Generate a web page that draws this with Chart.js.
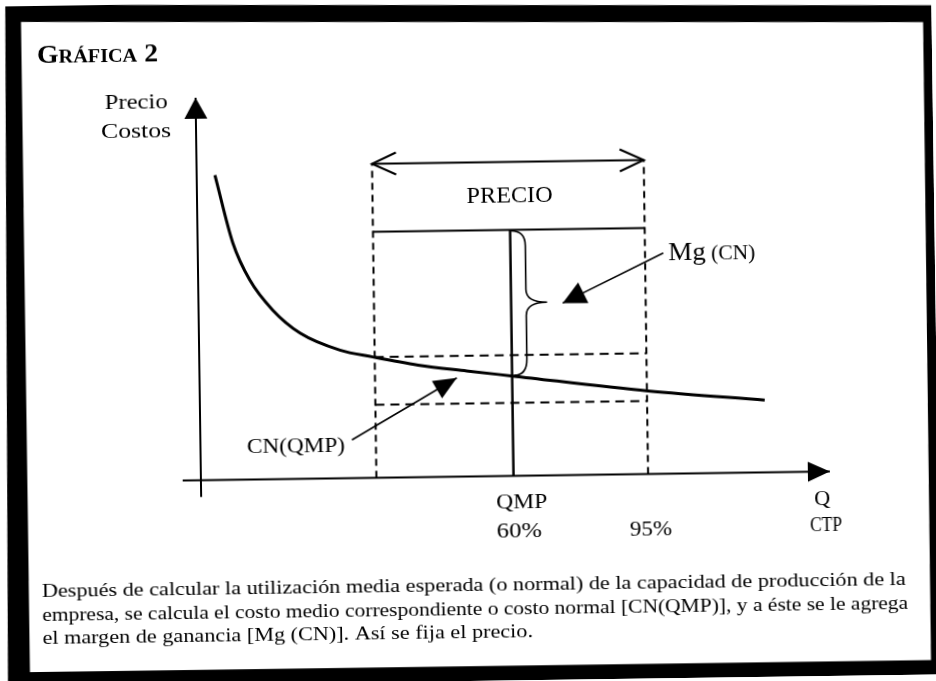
<!DOCTYPE html>
<html>
<head>
<meta charset="utf-8">
<script src="https://cdn.jsdelivr.net/npm/chart.js@4.4.1/dist/chart.umd.min.js"></script>
<style>
  html, body { margin: 0; padding: 0; background: #fff; overflow: hidden; }
  #wrap { width: 936px; height: 681px; transform: rotate(-0.8deg); }
</style>
</head>
<body>
<div id="wrap"><canvas id="grafica" width="936" height="681"></canvas></div>
<script>
// curva de costo normal CN(Q) (Q y costo en unidades relativas 0-100)
var q_values  = [2.9, 5.6, 8.2, 11.8, 16.1, 22.4, 27.6, 34.8, 42.5, 49.8, 71.3, 89.8];
var cn_values = [79.7, 61.9, 52.2, 44.2, 38.1, 33.5, 31.6, 29.3, 27.6, 26.1, 21.7, 18.9];

var q_marks = [27.9, 49.7, 71.1];      // limite izquierdo, QMP, 95%
var tick_labels = ['', '60%', '95%'];
var precio = 64.3;
var arrow_level = 82.1;
var cn_levels = [31.6, 19.1];          // lineas punteadas horizontales
var cn_qmp = 26.3;

var mg_pointer = [[74.0, 57.7], [57.9, 45.0]];
var cnqmp_pointer = [[24.1, 10.0], [40.9, 25.8]];

var caption = [
  'Después de calcular la utilización media esperada (o normal) de la capacidad de producción de la',
  'empresa, se calcula el costo medio correspondiente o costo normal [CN(QMP)], y a éste se le agrega',
  'el margen de ganancia [Mg (CN)]. Así se fija el precio.'
];

var FONT = '"Liberation Serif", "Times New Roman", serif';

function pts(arr) {
  return arr.map(function (p) { return {x: p[0], y: p[1]}; });
}

function seg(data, width, dash, extra) {
  var ds = {
    data: data, showLine: true, borderColor: '#000', borderWidth: width,
    borderDash: dash || [], pointRadius: 0, clip: false, tension: 0
  };
  for (var k in extra) ds[k] = extra[k];
  return ds;
}

var curve = q_values.map(function (q, i) { return {x: q, y: cn_values[i]}; });

var datasets = [
  seg(curve, 3, null, {tension: 0.4, cubicInterpolationMode: 'monotone'}),
  seg([{x: 0, y: -4.4}, {x: 0, y: 100}], 2, null, {head: [21, 11.5]}),
  seg([{x: -2.9, y: 0}, {x: 100, y: 0}], 2, null, {head: [22, 10]}),
  seg([{x: q_marks[1], y: 0}, {x: q_marks[1], y: precio}], 2.5),
  seg([{x: q_marks[0], y: precio}, {x: q_marks[2], y: precio}], 2),
  seg([{x: q_marks[0], y: arrow_level}, {x: q_marks[2], y: arrow_level}], 2, null, {chevron: [24, 11]}),
  seg([{x: q_marks[0], y: 0}, {x: q_marks[0], y: arrow_level}], 2, [7, 5]),
  seg([{x: q_marks[2], y: 0}, {x: q_marks[2], y: arrow_level}], 2, [7, 5]),
  seg([{x: q_marks[0], y: cn_levels[0]}, {x: q_marks[2], y: cn_levels[0]}], 2, [9, 6]),
  seg([{x: q_marks[0], y: cn_levels[1]}, {x: q_marks[2], y: cn_levels[1]}], 2, [9, 6]),
  seg(pts(mg_pointer), 1.6, null, {head: [23, 11.5]}),
  seg(pts(cnqmp_pointer), 1.6, null, {head: [23, 10]})
];

// texto en partes [texto, tamaño, peso]; se estira en x para igualar el ancho de la referencia
function drawText(ctx, parts, x, y, align, width, fixedSx) {
  var total = 0;
  var ws = parts.map(function (p) {
    ctx.font = (p[2] ? p[2] + ' ' : '') + p[1] + 'px ' + FONT;
    var w = ctx.measureText(p[0]).width;
    total += w;
    return w;
  });
  var sx = fixedSx || (width ? width / total : 1.1);
  var x0 = align === 'right' ? x - total * sx : (align === 'center' ? x - total * sx / 2 : x);
  ctx.save();
  ctx.translate(x0, y);
  ctx.scale(sx, 1);
  ctx.textAlign = 'left';
  ctx.textBaseline = 'alphabetic';
  ctx.fillStyle = '#000';
  var cx = 0;
  parts.forEach(function (p, i) {
    ctx.font = (p[2] ? p[2] + ' ' : '') + p[1] + 'px ' + FONT;
    ctx.fillText(p[0], cx, 0);
    cx += ws[i];
  });
  ctx.restore();
  return sx;
}

function head(ctx, tip, from, len, half) {
  var dx = tip.x - from.x, dy = tip.y - from.y;
  var d = Math.sqrt(dx * dx + dy * dy);
  var ux = dx / d, uy = dy / d;
  var bx = tip.x - ux * len, by = tip.y - uy * len;
  ctx.beginPath();
  ctx.moveTo(tip.x, tip.y);
  ctx.lineTo(bx - uy * half, by + ux * half);
  ctx.lineTo(bx + uy * half, by - ux * half);
  ctx.closePath();
  ctx.fill();
}

function chevron(ctx, tip, from, len, half) {
  var dx = tip.x - from.x, dy = tip.y - from.y;
  var d = Math.sqrt(dx * dx + dy * dy);
  var ux = dx / d, uy = dy / d;
  var bx = tip.x - ux * len, by = tip.y - uy * len;
  ctx.beginPath();
  ctx.moveTo(bx - uy * half, by + ux * half);
  ctx.lineTo(tip.x, tip.y);
  ctx.lineTo(bx + uy * half, by - ux * half);
  ctx.stroke();
}

var marcoPlugin = {
  id: 'marco',
  beforeDraw: function (chart) {
    var ctx = chart.ctx;
    ctx.save();
    ctx.fillStyle = '#fff';
    ctx.fillRect(0, 0, chart.width, chart.height);
    ctx.fillStyle = '#000';
    ctx.beginPath();
    ctx.moveTo(10, -1.5); ctx.lineTo(960, 12); ctx.lineTo(960, 700); ctx.lineTo(3, 700);
    ctx.closePath(); ctx.fill();
    ctx.fillStyle = '#fff';
    ctx.beginPath();
    ctx.moveTo(25.5, 15.7); ctx.lineTo(927.5, 28.4); ctx.lineTo(926.5, 666.5); ctx.lineTo(25.4, 665.9);
    ctx.closePath(); ctx.fill();
    ctx.restore();
  },
  afterDatasetsDraw: function (chart) {
    var ctx = chart.ctx;
    var xs = chart.scales.x, ys = chart.scales.y;
    ctx.save();
    ctx.fillStyle = '#000';
    ctx.strokeStyle = '#000';
    ctx.setLineDash([]);

    chart.data.datasets.forEach(function (ds, i) {
      var p = chart.getDatasetMeta(i).data;
      var n = p.length;
      if (ds.head) head(ctx, p[n - 1], p[n - 2], ds.head[0], ds.head[1]);
      if (ds.chevron) {
        ctx.lineWidth = 2;
        chevron(ctx, p[0], p[1], ds.chevron[0], ds.chevron[1]);
        chevron(ctx, p[n - 1], p[n - 2], ds.chevron[0], ds.chevron[1]);
      }
    });

    // llave del margen Mg(CN)
    var bx = xs.getPixelForValue(q_marks[1]);
    var top = ys.getPixelForValue(precio);
    var bot = ys.getPixelForValue(cn_qmp);
    var mid = (top + bot) / 2;
    var vx = bx + 15, tx = bx + 36;
    ctx.lineWidth = 1.6;
    ctx.beginPath();
    ctx.moveTo(bx + 1, top + 1);
    ctx.quadraticCurveTo(vx, top + 1, vx, top + 16);
    ctx.lineTo(vx, mid - 13);
    ctx.quadraticCurveTo(vx, mid, tx, mid);
    ctx.quadraticCurveTo(vx, mid, vx, mid + 13);
    ctx.lineTo(vx, bot - 16);
    ctx.quadraticCurveTo(vx, bot, bx + 2, bot);
    ctx.stroke();

    var x0 = xs.getPixelForValue(0), y0 = ys.getPixelForValue(0);
    var yTop = ys.getPixelForValue(100), xEnd = xs.getPixelForValue(100);

    drawText(ctx, [['G', 26, 'bold'], ['RÁFICA', 19, 'bold'], [' 2', 26, 'bold']], 41, 57, 'left', 121);
    drawText(ctx, [['Precio', 22]], x0 - 28, yTop + 10, 'right', 63);
    drawText(ctx, [['Costos', 22]], x0 - 25, yTop + 39, 'right', 70);
    drawText(ctx, [['PRECIO', 23]], xs.getPixelForValue(q_marks[1]), ys.getPixelForValue(arrow_level) + 41, 'center', 86);
    drawText(ctx, [['Mg', 25], [' (CN)', 20]], xs.getPixelForValue(mg_pointer[0][0]) + 5, ys.getPixelForValue(mg_pointer[0][1]) + 7, 'left', 87);
    drawText(ctx, [['CN(QMP)', 22]], xs.getPixelForValue(cnqmp_pointer[0][0]) - 7, ys.getPixelForValue(cnqmp_pointer[0][1]) + 12, 'right', 98);

    drawText(ctx, [['QMP', 21]], xs.getPixelForValue(q_marks[1]) + 8, y0 + 32, 'center', 51);
    tick_labels.forEach(function (t, i) {
      if (t) drawText(ctx, [[t, 22]], xs.getPixelForValue(q_marks[i]) + (i === 1 ? 5 : 2), y0 + 61, 'center', i === 1 ? 45 : 42);
    });
    drawText(ctx, [['Q', 22]], xEnd - 8, y0 + 33.5, 'center', 16);
    drawText(ctx, [['CTP', 20]], xEnd - 4.6, y0 + 59.3, 'center', 32);

    var s1 = drawText(ctx, [[caption[0], 19.5]], 38.4, 591, 'left', 864);
    drawText(ctx, [[caption[1], 19.5]], 38.4, 614.5, 'left', 866);
    drawText(ctx, [[caption[2], 19.5]], 38.4, 637.5, 'left', 0, s1);
    ctx.restore();
  }
};

var ctx = document.getElementById('grafica');
var grafica = new Chart(ctx, {
  type: 'scatter',
  data: { datasets: datasets },
  options: {
    responsive: false,
    animation: false,
    devicePixelRatio: 1,
    layout: { padding: { left: 199, right: 108, top: 94, bottom: 204.5 } },
    scales: {
      x: { type: 'linear', min: 0, max: 100, display: false },
      y: { type: 'linear', min: 0, max: 100, display: false }
    },
    plugins: { legend: { display: false }, tooltip: { enabled: false } },
    events: []
  },
  plugins: [marcoPlugin]
});
</script>
</body>
</html>
